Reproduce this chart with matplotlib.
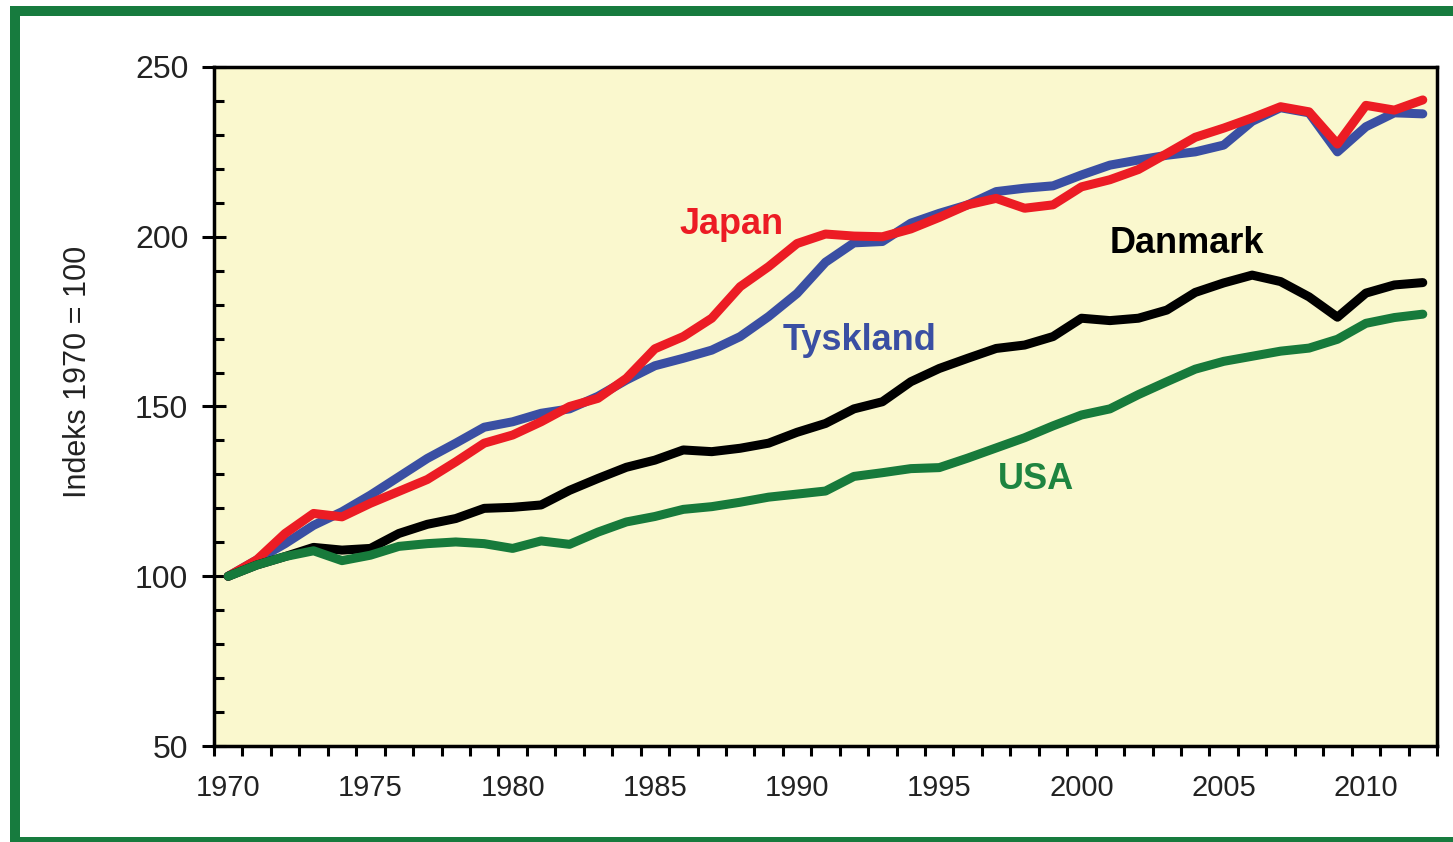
import numpy as np
import matplotlib
matplotlib.use("Agg")
import matplotlib.pyplot as plt
from matplotlib.patches import Rectangle
from matplotlib.ticker import MultipleLocator, FixedLocator

plt.rcParams['font.family'] = ['Liberation Sans', 'DejaVu Sans']

# ==========================================================
# DATA (index 1970 = 100)
# ==========================================================
years = list(range(1970, 2013))

japan = [100, 104.8, 112.6, 118.5, 117.5, 121.5, 125, 128.5, 133.7, 139.2,
         141.6, 145.5, 150, 152.4, 158.3, 167, 170.6, 176, 185.3, 191.2,
         198, 200.8, 200.2, 200, 202.3, 205.7, 209.4, 211.3, 208.4, 209.4,
         214.7, 216.8, 219.8, 224.5, 229.3, 232, 235, 238.3, 236.8, 227.3,
         238.7, 237.3, 240.3]

tyskland = [100, 104.8, 109.6, 115, 119, 123.9, 129.3, 134.7, 139.2, 143.9,
            145.5, 148, 149.3, 153, 157.8, 162, 164.2, 166.6, 170.6, 176.5,
            183.3, 192.5, 198.2, 198.6, 204, 206.9, 209.4, 213.3, 214.3, 215,
            218.2, 221.1, 222.6, 224, 225, 227, 234, 238, 236.5, 225,
            232.4, 236.5, 236.2]

danmark = [100, 103.3, 105.8, 108.5, 107.7, 108.2, 112.6, 115.3, 117, 120,
           120.3, 121, 125.3, 128.8, 132.1, 134.2, 137.2, 136.7, 137.7, 139.2,
           142.4, 145, 149.3, 151.4, 157.3, 161.2, 164.2, 167.1, 168.1, 170.6,
           176, 175.3, 176, 178.4, 183.6, 186.4, 188.7, 186.8, 182.3, 176.3,
           183.4, 185.8, 186.5]

usa = [100, 103.3, 105.8, 107.5, 104.6, 106.2, 108.8, 109.6, 110.1, 109.6,
       108.2, 110.4, 109.4, 113, 116, 117.6, 119.7, 120.5, 121.8, 123.3,
       124.2, 125.1, 129.4, 130.5, 131.7, 132, 134.8, 137.8, 140.8, 144.3,
       147.5, 149.3, 153.5, 157.3, 161, 163.3, 164.8, 166.3, 167.2, 169.8,
       174.5, 176.2, 177.2]

year_labels = [1970, 1975, 1980, 1985, 1990, 1995, 2000, 2005, 2010]

# ==========================================================
# FIGURE
# ==========================================================
fig = plt.figure(figsize=(14.53, 8.42), dpi=100)
ax = fig.add_axes([214 / 1453, 1 - 746 / 842, (1437 - 214) / 1453, (746 - 67) / 842])
ax.set_facecolor('#FAF8CE')

lw = 6.5
ax.plot(years, tyskland, color='#3A4FA3', lw=lw, solid_capstyle='round', solid_joinstyle='round')
ax.plot(years, japan, color='#EC1C24', lw=lw, solid_capstyle='round', solid_joinstyle='round')
ax.plot(years, danmark, color='black', lw=lw, solid_capstyle='round', solid_joinstyle='round')
ax.plot(years, usa, color='#177A3B', lw=lw, solid_capstyle='round', solid_joinstyle='round')

# Series labels
lab_kw = dict(fontsize=26, fontweight='bold', ha='center', va='center')
ax.text(1987.7, 203.5, 'Japan', color='#EC1C24', **lab_kw)
ax.text(1992.2, 169.3, 'Tyskland', color='#3A4FA3', **lab_kw)
ax.text(2003.7, 197.9, 'Danmark', color='black', **lab_kw)
ax.text(1998.4, 128.6, 'USA', color='#1E8440', **lab_kw)

# Axes limits and ticks
ax.set_xlim(1969.5, 2012.5)
ax.set_ylim(50, 250)

ax.yaxis.set_major_locator(MultipleLocator(50))
ax.yaxis.set_minor_locator(MultipleLocator(10))
ax.tick_params(axis='y', which='major', direction='inout', length=17, width=2.2,
               pad=10, labelsize=23, labelcolor='#222222')
ax.tick_params(axis='y', which='minor', direction='in', length=7.5, width=2.2)

ax.xaxis.set_major_locator(FixedLocator(year_labels))
ax.xaxis.set_minor_locator(FixedLocator([y - 0.5 for y in years] + [years[-1] + 0.5]))
ax.tick_params(axis='x', which='major', length=0, pad=20, labelsize=21, labelcolor='#222222')
ax.tick_params(axis='x', which='minor', direction='out', length=7, width=2.2)

for side in ['left', 'bottom', 'top', 'right']:
    ax.spines[side].set_linewidth(2.5)
    ax.spines[side].set_color('black')

fig.text(78 / 1453, 1 - 372 / 842, 'Indeks 1970 = 100', rotation=90,
         ha='center', va='center', fontsize=22, color='#222222')

# Green frame around the chart
frame = Rectangle((15 / 1453, 0), 1.1, 1 - 11 / 842, transform=fig.transFigure,
                  fill=False, edgecolor='#177B3E', lw=7.2, clip_on=False)
fig.patches.append(frame)

fig.savefig('out.png', dpi=100)
